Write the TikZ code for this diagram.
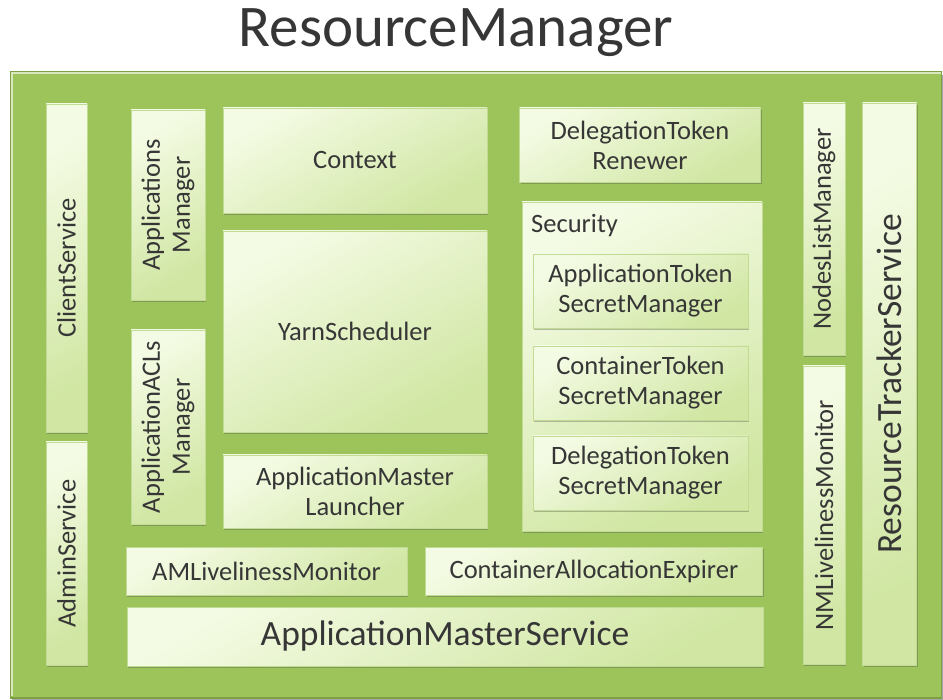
\documentclass[tikz,border=0pt]{standalone}
\usepackage{fontspec}
\setmainfont{Carlito}
\usetikzlibrary{shadows}

\definecolor{panelgreen}{HTML}{9DC35B}
\definecolor{paneledge}{HTML}{7E9F45}
\definecolor{boxlight}{HTML}{F4FBE4}
\definecolor{boxdark}{HTML}{D0E6A2}
\definecolor{boxedge}{HTML}{C2DB92}
\definecolor{inktext}{HTML}{363636}

\tikzset{
  part/.style={draw=boxedge, line width=0.6pt,
    top color=boxlight, bottom color=boxdark, shading angle=30,
    drop shadow={shadow xshift=1.2pt, shadow yshift=-1.6pt, opacity=0.35, fill=black!70},
    inner sep=0pt},
  inner part/.style={part, drop shadow={shadow xshift=1pt, shadow yshift=-1.2pt, opacity=0.25, fill=black!70}},
  lbl/.style={text=inktext, align=center, inner sep=0pt,
    font=\fontsize{26.5}{30}\selectfont},
  vlbl/.style={lbl, rotate=90},
  biglbl/.style={text=inktext, align=center, inner sep=0pt,
    font=\fontsize{35.5}{40}\selectfont},
}

\begin{document}
\begin{tikzpicture}[x=1pt, y=-1pt]
\useasboundingbox (0,0) rectangle (943,700);
\fill[white] (0,0) rectangle (943,700);

% title
\node[text=inktext, font=\fontsize{59}{66}\selectfont, inner sep=0pt] (title) at (456,33) {ResourceManager};

% outer panel
\fill[black!35] (12,75) rectangle (943,700);
\node[fill=panelgreen, draw=paneledge, line width=1.5pt, minimum width=931pt, minimum height=626pt, inner sep=0pt] (panel) at (476,385) {};
\draw[white!60!panelgreen, line width=1.2pt] (12,696) -- (12,73) -- (941,73);

% left column
\node[part, minimum width=41pt, minimum height=328pt] (client) at (66.5,268) {};
\node[vlbl] (clientT) at (client.center) {ClientService};
\node[part, minimum width=41pt, minimum height=223pt] (admin) at (66.5,553.5) {};
\node[vlbl] (adminT) at (admin.center) {AdminService};

% managers
\node[part, minimum width=74pt, minimum height=190pt] (apps) at (168,205) {};
\node[vlbl] (appsT) at (apps.center) {Applications\\Manager};
\node[part, minimum width=74pt, minimum height=194pt] (acls) at (168,427) {};
\node[vlbl] (aclsT) at (acls.center) {ApplicationACLs\\Manager};

% scheduler column
\node[part, minimum width=264pt, minimum height=105pt, lbl] (context) at (355,160.5) {Context};
\node[part, minimum width=264pt, minimum height=201pt, lbl] (yarn) at (355,331.5) {YarnScheduler};
\node[part, minimum width=264pt, minimum height=73pt, lbl] (launcher) at (355,491.5) {ApplicationMaster\\Launcher};

% security column
\node[part, minimum width=241pt, minimum height=74pt, lbl] (renewer) at (640,145) {DelegationToken\\Renewer};
\node[part, minimum width=240pt, minimum height=329pt] (security) at (642,366.5) {};
\node[lbl, anchor=west] (securityT) at (531,226) {Security};
\node[inner part, minimum width=215pt, minimum height=74pt, lbl] (appsecret) at (640.5,291) {ApplicationToken\\SecretManager};
\node[inner part, minimum width=215pt, minimum height=74pt, lbl] (contsecret) at (640.5,383) {ContainerToken\\SecretManager};
\node[inner part, minimum width=215pt, minimum height=74pt, lbl] (delsecret) at (640.5,473) {DelegationToken\\SecretManager};

% bottom rows
\node[part, minimum width=281pt, minimum height=48pt, lbl] (amlive) at (266.5,571) {AMLivelinessMonitor};
\node[part, minimum width=337pt, minimum height=48pt, lbl] (expirer) at (594,571) {ContainerAllocationExpirer};
\node[part, minimum width=636pt, minimum height=59pt, biglbl] (amservice) at (445,636.5) {ApplicationMasterService};

% node-manager side
\node[part, minimum width=42pt, minimum height=252pt] (nodes) at (824,229) {};
\node[vlbl] (nodesT) at (nodes.center) {NodesListManager};
\node[part, minimum width=42pt, minimum height=298pt] (nmlive) at (824,515) {};
\node[vlbl] (nmliveT) at (nmlive.center) {NMLivelinessMonitor};
\node[part, minimum width=54pt, minimum height=562pt] (tracker) at (889.5,384) {};
\node[biglbl, rotate=90] (trackerT) at (tracker.center) {ResourceTrackerService};
\end{tikzpicture}
\end{document}
